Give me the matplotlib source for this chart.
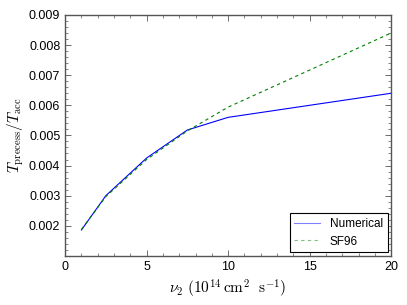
import matplotlib
matplotlib.use('Agg')
import matplotlib.pyplot as plt
from matplotlib.ticker import MultipleLocator

# DATA
nu2 = [1, 2.5, 5, 7.5, 10, 20]
numerical = [0.00186, 0.00300, 0.00425, 0.00518, 0.00560, 0.00640]
sf96 = [0.00188, 0.00297, 0.00420, 0.00515, 0.00594, 0.00840]

plt.rcParams['font.family'] = ['Liberation Sans', 'DejaVu Sans']
plt.rcParams['mathtext.fontset'] = 'cm'
plt.rcParams['font.size'] = 9

fig = plt.figure(figsize=(4.07, 3.05), dpi=100)
ax = fig.add_axes([0.16, 0.161, 0.801, 0.79])

ax.plot(nu2, numerical, color='b', linewidth=0.8, label='Numerical')
ax.plot(nu2, sf96, color='g', linestyle='--', linewidth=0.8, dashes=(3, 3), label='SF96')

ax.set_xlim(0, 20)
ax.set_ylim(0.001, 0.009)
ax.xaxis.set_major_locator(MultipleLocator(5))
ax.xaxis.set_minor_locator(MultipleLocator(1))
ax.yaxis.set_minor_locator(MultipleLocator(0.0002))
ax.set_yticks([0.002, 0.003, 0.004, 0.005, 0.006, 0.007, 0.008, 0.009])
ax.tick_params(which='both', direction='in', top=True, right=True, colors='#555555',
               labelcolor='black')
ax.tick_params(which='major', length=4, width=0.6)
ax.tick_params(which='minor', length=2, width=0.5)
for s in ax.spines.values():
    s.set_color('#555555')
    s.set_linewidth(1.0)

ax.set_xlabel(r'$\nu_2\ (10^{14}\,{\rm cm}^2\ \ {\rm s}^{-1})$', fontsize=11)
ax.set_ylabel(r'$T_{\rm precess}/T_{\rm acc}$', fontsize=11, labelpad=2)

leg = ax.legend(loc='lower right', fontsize=8.5, fancybox=False, framealpha=1,
                edgecolor='black', handlelength=2.2, borderaxespad=0.3)
leg.get_frame().set_linewidth(0.8)
for h in leg.get_lines():
    h.set_alpha(0.5)

fig.savefig('out.png', dpi=100)
